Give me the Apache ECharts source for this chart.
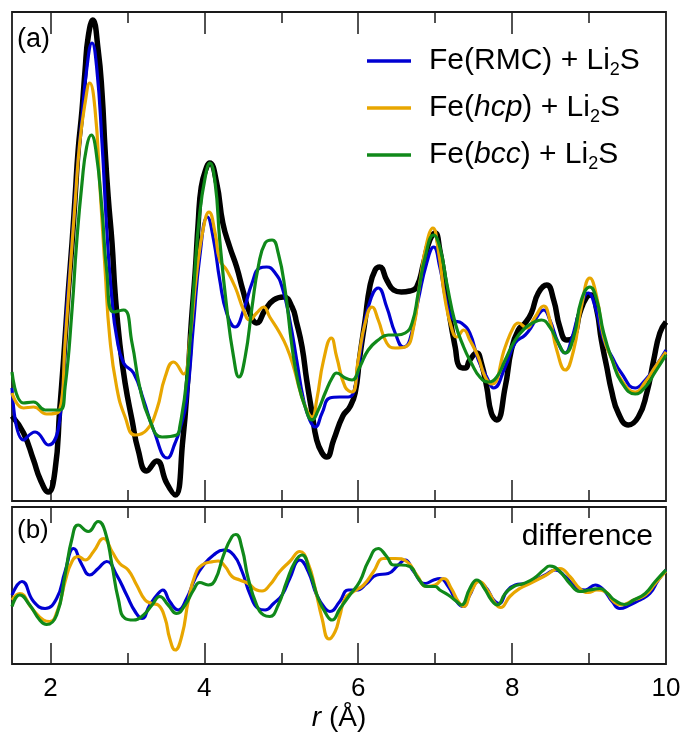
<!DOCTYPE html>
<html>
<head>
<meta charset="utf-8">
<script src="https://cdn.jsdelivr.net/npm/echarts@6/dist/echarts.min.js"></script>
<style>
  html, body { margin: 0; padding: 0; background: #fff; }
  #chart { width: 684px; height: 744px; }
</style>
</head>
<body>
<div id="chart"></div>
<script>
// Pair distribution function G(r): measured data and three model fits (panel a),
// and model - data differences (panel b).  Each entry is [r (Å), value].

const expData = [
  [1.50,0.68],[1.65,0.34],[1.78,-0.20],[1.87,-0.60],[1.97,-0.84],[2.06,-0.40],[2.12,0.80],
  [2.17,1.80],[2.23,3.14],[2.28,4.14],[2.32,5.06],[2.36,6.00],[2.41,6.80],[2.45,7.60],
  [2.49,8.26],[2.55,8.60],[2.62,8.00],[2.67,7.14],[2.71,6.00],[2.75,5.06],[2.80,4.14],
  [2.84,3.14],[2.90,2.14],[2.97,1.34],[3.06,0.60],[3.14,0.00],[3.25,-0.42],[3.38,-0.22],
  [3.51,-0.66],[3.62,-0.90],[3.72,0.20],[3.79,1.54],[3.83,2.54],[3.88,3.54],[3.92,4.54],
  [3.96,5.26],[4.03,5.66],[4.07,5.74],[4.16,5.34],[4.24,4.54],[4.33,4.06],[4.42,3.66],
  [4.50,3.20],[4.59,2.74],[4.68,2.54],[4.79,2.80],[4.90,3.00],[5.03,3.06],[5.14,2.86],
  [5.20,2.54],[5.27,2.06],[5.33,1.40],[5.40,0.74],[5.46,0.20],[5.53,-0.06],[5.59,-0.14],
  [5.68,0.20],[5.80,0.68],[5.89,0.86],[5.96,1.14],[6.02,1.86],[6.09,2.60],[6.15,3.26],
  [6.22,3.60],[6.28,3.66],[6.37,3.40],[6.46,3.20],[6.56,3.16],[6.67,3.18],[6.76,3.26],
  [6.85,3.74],[6.93,4.20],[7.00,4.34],[7.06,4.00],[7.13,3.34],[7.19,2.66],[7.26,2.06],
  [7.32,1.66],[7.39,1.64],[7.45,1.80],[7.54,1.94],[7.60,1.74],[7.67,1.26],[7.73,0.74],
  [7.80,0.60],[7.91,1.26],[7.99,2.00],[8.08,2.40],[8.17,2.54],[8.25,2.74],[8.34,3.14],
  [8.45,3.30],[8.54,3.00],[8.62,2.46],[8.71,2.20],[8.80,2.26],[8.88,2.74],[8.97,3.06],
  [9.03,3.10],[9.10,2.80],[9.16,2.20],[9.23,1.66],[9.29,1.20],[9.38,0.74],[9.51,0.50],
  [9.64,0.66],[9.75,1.14],[9.84,1.80],[9.92,2.34],[10.0,2.56]
];

const rmcFit = [
  [1.50,1.24],[1.65,0.20],[1.80,0.36],[1.97,0.10],[2.12,0.60],[2.21,2.80],[2.28,4.14],
  [2.34,5.46],[2.41,6.66],[2.47,7.60],[2.54,8.14],[2.60,7.66],[2.67,6.14],[2.73,4.46],
  [2.80,3.00],[2.86,2.26],[2.95,1.74],[3.08,1.54],[3.21,1.00],[3.34,0.40],[3.52,-0.16],
  [3.62,0.14],[3.68,0.40],[3.77,1.00],[3.86,2.54],[3.94,3.86],[4.04,4.66],[4.12,4.20],
  [4.20,3.40],[4.29,2.74],[4.40,2.46],[4.51,2.80],[4.62,3.34],[4.72,3.64],[4.81,3.66],
  [4.92,3.54],[5.01,3.26],[5.11,2.60],[5.20,1.80],[5.29,1.00],[5.37,0.60],[5.44,0.46],
  [5.53,0.74],[5.63,1.04],[5.76,1.06],[5.87,1.06],[5.96,1.26],[6.05,2.20],[6.13,2.86],
  [6.26,3.24],[6.37,2.86],[6.48,2.34],[6.59,2.06],[6.67,2.20],[6.78,3.00],[6.89,3.74],
  [6.98,4.06],[7.06,3.66],[7.15,2.94],[7.24,2.60],[7.34,2.54],[7.45,2.34],[7.56,1.80],
  [7.67,1.46],[7.76,1.24],[7.91,1.66],[8.04,2.14],[8.17,2.30],[8.25,2.46],[8.34,2.70],
  [8.41,2.80],[8.49,2.60],[8.60,2.14],[8.69,1.94],[8.77,2.20],[8.88,2.80],[8.99,3.14],
  [9.08,2.86],[9.19,2.20],[9.30,1.86],[9.42,1.54],[9.60,1.24],[9.73,1.40],[9.86,1.66],
  [10.0,2.00]
];

const hcpFit = [
  [1.50,1.14],[1.65,0.84],[1.78,0.86],[1.95,0.72],[2.12,0.80],[2.19,2.14],[2.25,3.46],
  [2.32,4.94],[2.38,6.14],[2.45,6.94],[2.51,7.34],[2.58,6.80],[2.64,5.34],[2.71,3.60],
  [2.77,2.26],[2.86,1.26],[2.97,0.66],[3.10,0.30],[3.25,0.40],[3.38,0.80],[3.49,1.46],
  [3.60,1.76],[3.73,1.52],[3.81,2.20],[3.90,3.54],[3.99,4.46],[4.06,4.76],[4.14,4.34],
  [4.20,3.80],[4.29,3.60],[4.40,3.26],[4.51,2.80],[4.59,2.60],[4.68,2.74],[4.77,2.86],
  [4.85,2.66],[4.98,2.34],[5.07,2.06],[5.16,1.66],[5.24,1.20],[5.33,0.80],[5.40,0.66],
  [5.46,1.00],[5.55,1.80],[5.65,2.24],[5.72,1.86],[5.83,1.26],[5.92,1.16],[6.00,1.80],
  [6.09,2.54],[6.18,2.86],[6.26,2.60],[6.37,2.14],[6.48,2.04],[6.61,2.06],[6.72,2.46],
  [6.80,3.34],[6.89,4.14],[6.97,4.44],[7.04,4.00],[7.13,3.00],[7.22,2.40],[7.28,2.26],
  [7.37,2.40],[7.45,2.20],[7.56,1.86],[7.65,1.46],[7.74,1.32],[7.91,2.06],[8.02,2.46],
  [8.08,2.54],[8.19,2.44],[8.29,2.64],[8.41,2.88],[8.49,2.60],[8.58,2.00],[8.69,1.60],
  [8.80,2.00],[8.90,2.86],[9.01,3.44],[9.10,3.06],[9.19,2.26],[9.30,1.80],[9.42,1.40],
  [9.60,1.16],[9.73,1.36],[9.86,1.66],[10.0,1.96]
];

const bccFit = [
  [1.50,1.56],[1.65,0.94],[1.78,0.96],[1.93,0.80],[2.12,0.80],[2.19,1.26],[2.28,2.80],
  [2.34,4.14],[2.41,5.34],[2.47,6.06],[2.53,6.30],[2.59,6.00],[2.67,4.80],[2.73,3.60],
  [2.82,2.76],[2.95,2.80],[3.06,2.14],[3.16,1.26],[3.29,0.60],[3.45,0.26],[3.64,0.30],
  [3.68,0.46],[3.77,1.40],[3.86,3.20],[3.94,4.74],[4.03,5.60],[4.07,5.74],[4.14,5.34],
  [4.20,4.20],[4.29,2.86],[4.38,1.86],[4.45,1.46],[4.53,1.86],[4.62,2.86],[4.70,3.66],
  [4.79,4.14],[4.88,4.20],[4.96,3.94],[5.05,3.20],[5.14,2.06],[5.22,1.34],[5.31,0.86],
  [5.40,0.60],[5.48,0.80],[5.57,1.14],[5.66,1.44],[5.72,1.54],[5.83,1.44],[5.92,1.40],
  [6.02,1.66],[6.13,2.00],[6.26,2.20],[6.39,2.30],[6.50,2.30],[6.61,2.34],[6.70,2.54],
  [6.78,3.14],[6.87,3.86],[6.98,4.30],[7.06,4.06],[7.15,3.34],[7.26,2.54],[7.37,2.06],
  [7.47,1.74],[7.58,1.46],[7.69,1.36],[7.80,1.46],[7.91,1.80],[8.04,2.20],[8.17,2.44],
  [8.29,2.56],[8.38,2.60],[8.49,2.46],[8.60,2.14],[8.69,1.94],[8.80,2.26],[8.90,3.00],
  [9.01,3.26],[9.10,3.00],[9.19,2.34],[9.30,1.80],[9.42,1.36],[9.60,1.12],[9.73,1.26],
  [9.86,1.56],[10.0,1.90]
];

const rmcDiff = [
  [1.50,-0.20],[1.63,0.07],[1.78,-0.33],[1.93,-0.47],[2.08,-0.27],[2.19,0.27],[2.30,0.73],
  [2.41,0.40],[2.51,0.20],[2.62,0.33],[2.73,0.47],[2.86,0.20],[2.99,-0.20],[3.10,-0.53],
  [3.19,-0.67],[3.29,-0.40],[3.40,-0.17],[3.46,-0.10],[3.55,-0.33],[3.66,-0.50],[3.77,-0.27],
  [3.88,0.13],[3.99,0.40],[4.12,0.60],[4.25,0.70],[4.38,0.60],[4.49,0.27],[4.59,-0.17],
  [4.70,-0.47],[4.79,-0.50],[4.90,-0.37],[5.01,-0.20],[5.11,0.13],[5.24,0.50],[5.35,0.27],
  [5.46,-0.20],[5.57,-0.47],[5.63,-0.53],[5.76,-0.33],[5.87,-0.10],[5.98,-0.10],[6.11,0.03],
  [6.24,0.20],[6.39,0.23],[6.52,0.40],[6.61,0.50],[6.72,0.27],[6.87,0.03],[6.98,0.10],
  [7.06,0.13],[7.17,-0.03],[7.28,-0.33],[7.36,-0.43],[7.45,-0.20],[7.56,0.07],[7.67,-0.07],
  [7.76,-0.30],[7.83,-0.37],[7.93,-0.13],[8.04,0.00],[8.17,0.03],[8.30,0.10],[8.43,0.20],
  [8.56,0.30],[8.69,0.17],[8.82,-0.03],[8.95,-0.10],[9.08,0.00],[9.19,-0.10],[9.30,-0.33],
  [9.40,-0.47],[9.53,-0.40],[9.66,-0.30],[9.79,-0.17],[9.90,0.10],[10.0,0.30]
];

const hcpDiff = [
  [1.50,-0.30],[1.60,-0.17],[1.76,-0.47],[1.91,-0.70],[1.99,-0.73],[2.10,-0.47],[2.19,0.07],
  [2.28,0.47],[2.36,0.57],[2.45,0.50],[2.56,0.67],[2.69,0.93],[2.80,0.67],[2.90,0.43],
  [3.01,0.30],[3.12,0.00],[3.23,-0.30],[3.32,-0.37],[3.40,-0.40],[3.49,-0.67],[3.55,-1.07],
  [3.62,-1.30],[3.71,-1.00],[3.79,-0.33],[3.88,0.20],[3.97,0.40],[4.12,0.47],[4.18,0.48],
  [4.27,0.37],[4.36,0.17],[4.46,0.10],[4.57,0.03],[4.68,-0.10],[4.75,-0.12],[4.85,0.00],
  [4.98,0.27],[5.11,0.47],[5.24,0.67],[5.35,0.43],[5.44,-0.07],[5.53,-0.67],[5.62,-1.08],
  [5.70,-0.93],[5.76,-0.62],[5.83,-0.27],[5.94,-0.13],[6.07,0.00],[6.20,0.27],[6.33,0.53],
  [6.48,0.53],[6.63,0.47],[6.76,0.20],[6.89,-0.03],[7.00,0.00],[7.11,0.13],[7.21,-0.07],
  [7.30,-0.33],[7.37,-0.43],[7.47,-0.13],[7.57,0.07],[7.69,-0.13],[7.78,-0.37],[7.85,-0.45],
  [7.97,-0.23],[8.10,-0.07],[8.23,0.03],[8.41,0.17],[8.62,0.33],[8.75,0.17],[8.88,-0.07],
  [8.99,-0.15],[9.10,-0.10],[9.21,-0.13],[9.32,-0.33],[9.42,-0.40],[9.58,-0.30],[9.73,-0.20],
  [9.86,0.03],[10.0,0.28]
];

const bccDiff = [
  [1.50,-0.43],[1.60,-0.20],[1.73,-0.40],[1.86,-0.70],[1.95,-0.79],[2.08,-0.60],[2.19,0.20],
  [2.28,0.93],[2.36,1.20],[2.49,1.07],[2.62,1.27],[2.71,1.07],[2.80,0.40],[2.88,-0.27],
  [2.97,-0.67],[3.08,-0.70],[3.21,-0.60],[3.32,-0.40],[3.42,-0.23],[3.53,-0.40],[3.64,-0.57],
  [3.75,-0.40],[3.86,-0.10],[3.94,0.05],[4.05,0.00],[4.14,0.10],[4.25,0.60],[4.36,0.97],
  [4.41,1.01],[4.49,0.73],[4.57,0.13],[4.68,-0.40],[4.77,-0.60],[4.85,-0.63],[4.96,-0.40],
  [5.07,0.07],[5.18,0.47],[5.27,0.60],[5.37,0.27],[5.48,-0.27],[5.59,-0.60],[5.66,-0.70],
  [5.76,-0.48],[5.89,-0.20],[6.02,0.07],[6.13,0.47],[6.26,0.73],[6.37,0.57],[6.46,0.40],
  [6.56,0.40],[6.67,0.37],[6.78,0.13],[6.89,-0.03],[7.00,-0.03],[7.06,-0.10],[7.17,-0.20],
  [7.28,-0.33],[7.34,-0.40],[7.45,-0.07],[7.54,0.10],[7.64,-0.07],[7.73,-0.30],[7.81,-0.40],
  [7.91,-0.17],[8.02,-0.03],[8.15,0.03],[8.28,0.13],[8.41,0.30],[8.49,0.38],[8.62,0.27],
  [8.75,0.03],[8.88,-0.13],[9.01,-0.10],[9.14,-0.07],[9.24,-0.17],[9.33,-0.30],[9.46,-0.39],
  [9.58,-0.30],[9.73,-0.17],[9.86,0.07],[10.0,0.30]
];

const majorTicks = [2, 4, 6, 8];
const minorTicks = [3, 5, 7, 9];
const tickLabels = [2, 4, 6, 8, 10];
const seriesNames = ['Fe(RMC) + Li2S', 'Fe(hcp) + Li2S', 'Fe(bcc) + Li2S'];

const FONT = '"Liberation Sans", Arial, Helvetica, sans-serif';
const INK = '#1a1a1a';
const COLORS = ['#0000d2', '#e8a600', '#10891a'];

function tickAxis(grid, position, values, length, extra) {
  return Object.assign({
    type: 'value', gridIndex: grid, position: position, min: 1.5, max: 10,
    axisLine: { show: false, onZero: false },
    splitLine: { show: false },
    axisTick: { show: true, inside: true, length: length, customValues: values,
                lineStyle: { color: INK, width: 1.5 } },
    axisLabel: { show: false }
  }, extra || {});
}

const xAxes = [
  tickAxis(0, 'bottom', majorTicks, 21),
  tickAxis(0, 'bottom', minorTicks, 11),
  tickAxis(0, 'top', majorTicks, 22),
  tickAxis(0, 'top', minorTicks, 11),
  tickAxis(1, 'bottom', majorTicks, 21, {
    axisLabel: { show: true, customValues: tickLabels, margin: 12, fontSize: 26,
                 fontFamily: FONT, color: '#000' },
    name: '{it|r} (Å)', nameLocation: 'middle', nameGap: 40,
    nameTextStyle: { fontSize: 28, fontFamily: FONT, color: '#000',
                     rich: { it: { fontSize: 28, fontStyle: 'italic', fontFamily: FONT, color: '#000' } } }
  }),
  tickAxis(1, 'bottom', minorTicks, 11),
  tickAxis(1, 'top', majorTicks, 16),
  tickAxis(1, 'top', minorTicks, 11)
];

const richLegend = {
  n: { fontSize: 30, fontFamily: FONT, color: '#000', lineHeight: 36 },
  p: { fontSize: 30, fontFamily: FONT, color: '#000', lineHeight: 36, padding: [0, 0, 0, 13] },
  i: { fontSize: 30, fontFamily: FONT, fontStyle: 'italic', color: '#000', lineHeight: 36 },
  s: { fontSize: 18, fontFamily: FONT, color: '#000', lineHeight: 8, verticalAlign: 'bottom' }
};

function legendLabel(name) {
  const m = name.match(/^Fe\((.*)\) \+ Li2S$/);
  const inner = m[1] === 'RMC' ? '{n|RMC}' : '{i|' + m[1] + '}';
  return '{p|Fe(}' + inner + '{n|) + Li}{s|2}{n|S}';
}

function lineSeries(name, data, color, xi, yi, width, z) {
  return {
    name: name, type: 'line', data: data, xAxisIndex: xi, yAxisIndex: yi,
    smooth: 0.5, showSymbol: false, symbol: 'none', z: z,
    lineStyle: { color: color, width: width }, itemStyle: { color: color },
    emphasis: { disabled: true }
  };
}

const chart = echarts.init(document.getElementById('chart'), null, { renderer: 'canvas' });
chart.setOption({
  animation: false,
  backgroundColor: '#fff',
  grid: [
    { left: 12, right: 18, top: 12, height: 489, show: true, borderColor: INK, borderWidth: 1.8 },
    { left: 12, right: 18, top: 507, height: 157, show: true, borderColor: INK, borderWidth: 1.8 }
  ],
  xAxis: xAxes,
  yAxis: [
    { type: 'value', gridIndex: 0, min: -1.02, max: 8.76, show: false },
    { type: 'value', gridIndex: 1, min: -1.58, max: 1.56, show: false }
  ],
  legend: {
    orient: 'vertical', left: 362, top: 41, itemWidth: 44, itemHeight: 3.5, itemGap: 14,
    icon: 'rect', data: seriesNames, formatter: legendLabel,
    textStyle: { rich: richLegend }, selectedMode: false
  },
  graphic: [
    { type: 'text', left: 17, top: 26, style: { text: '(a)', font: '27px ' + FONT, fill: '#000' } },
    { type: 'text', left: 17, top: 518, style: { text: '(b)', font: '26px ' + FONT, fill: '#000' } },
    { type: 'text', right: 31, top: 522, style: { text: 'difference', font: '30px ' + FONT, fill: '#000' } }
  ],
  series: [
    lineSeries('exp', expData, '#000', 0, 0, 5.5, 2),
    lineSeries(seriesNames[0], rmcFit, COLORS[0], 0, 0, 3.2, 3),
    lineSeries(seriesNames[1], hcpFit, COLORS[1], 0, 0, 3.2, 4),
    lineSeries(seriesNames[2], bccFit, COLORS[2], 0, 0, 3.2, 5),
    lineSeries(seriesNames[0], rmcDiff, COLORS[0], 4, 1, 3.2, 3),
    lineSeries(seriesNames[1], hcpDiff, COLORS[1], 4, 1, 3.2, 4),
    lineSeries(seriesNames[2], bccDiff, COLORS[2], 4, 1, 3.2, 5)
  ]
});
</script>
</body>
</html>
